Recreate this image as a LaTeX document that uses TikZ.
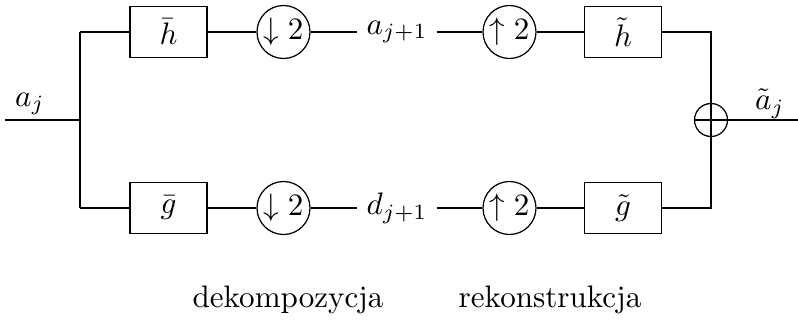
\documentclass[tikz,border=0pt]{standalone}
\begin{document}
\begin{tikzpicture}[x=0.0113cm,y=-0.0113cm,
  filt/.style={draw,minimum width=77*0.0113cm,minimum height=51*0.0113cm,inner sep=0pt},
  samp/.style={draw,circle,minimum size=53*0.0113cm,inner sep=0pt},
  summ/.style={draw,circle,minimum size=33*0.0113cm,inner sep=0pt},
  lab/.style={inner sep=1pt}]
\useasboundingbox (0,0) rectangle (798,320);
\coordinate (in) at (5,120);
\coordinate (split) at (80,120);
\coordinate (st) at (80,32);
\coordinate (sb) at (80,208);
\node[lab] (aj) at (30,104) {$a_j$};
\node[filt] (hb) at (168.5,32) {$\bar h$};
\node[filt] (gb) at (168.5,208) {$\bar g$};
\node[samp] (d1) at (283.5,32) {$\downarrow 2$};
\node[samp] (d2) at (283.5,208) {$\downarrow 2$};
\node[lab,minimum width=78*0.0113cm] (a1) at (397,32) {$a_{j+1}$};
\node[lab,minimum width=78*0.0113cm] (dd1) at (397,208) {$d_{j+1}$};
\node[samp] (u1) at (509.5,32) {$\uparrow 2$};
\node[samp] (u2) at (509.5,208) {$\uparrow 2$};
\node[filt] (ht) at (623,32) {$\tilde h$};
\node[filt] (gt) at (623,208) {$\tilde g$};
\node[summ] (sum) at (711,120) {};
\draw (sum.north) -- (sum.south) (sum.west) -- (sum.east);
\coordinate (et) at (711,32);
\coordinate (eb) at (711,208);
\coordinate (out) at (798,120);
\node[lab] (ajt) at (770,104) {$\tilde a_j$};
\draw (in) -- (split);
\draw (st) -- (sb);
\draw (st) -- (hb.west);
\draw (sb) -- (gb.west);
\draw (hb) -- (d1);
\draw (gb) -- (d2);
\draw (d1) -- (a1.west);
\draw (d2) -- (dd1.west);
\draw (a1.east) -- (u1);
\draw (dd1.east) -- (u2);
\draw (u1) -- (ht);
\draw (u2) -- (gt);
\draw (ht.east) -- (et) -- (sum.north);
\draw (gt.east) -- (eb) -- (sum.south);
\draw (sum.east) -- (out);
\node (dek) at (288,300) {dekompozycja};
\node (rek) at (550,300) {rekonstrukcja};
\end{tikzpicture}
\end{document}
